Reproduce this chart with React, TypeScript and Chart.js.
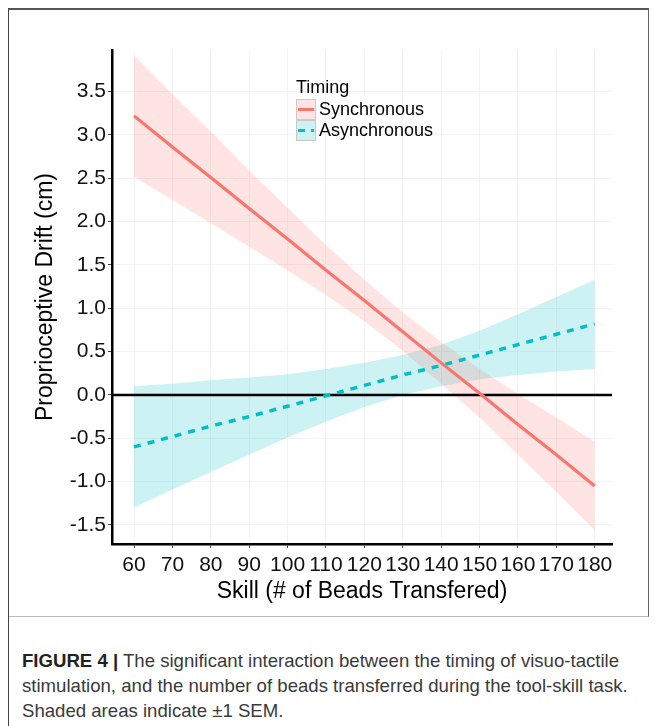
import React, { useEffect, useRef } from "react";
import { Chart, registerables } from "chart.js";

Chart.register(...registerables);

// ---- data ----
const skill = [60, 70, 80, 90, 100, 110, 120, 130, 140, 150, 160, 170, 180];

const syncFit = [3.22, 2.86, 2.51, 2.15, 1.8, 1.44, 1.09, 0.73, 0.37, 0.02, -0.34, -0.69, -1.05];
const syncUpper = [3.92, 3.47, 3.04, 2.59, 2.16, 1.73, 1.33, 0.95, 0.61, 0.3, 0.01, -0.26, -0.54];
const syncLower = [2.52, 2.25, 1.98, 1.71, 1.44, 1.15, 0.85, 0.51, 0.13, -0.26, -0.69, -1.12, -1.56];

const asyncFit = [-0.6, -0.48, -0.36, -0.25, -0.13, -0.01, 0.11, 0.23, 0.34, 0.46, 0.58, 0.7, 0.82];
const asyncUpper = [0.1, 0.13, 0.17, 0.2, 0.24, 0.3, 0.37, 0.46, 0.58, 0.74, 0.93, 1.13, 1.33];
const asyncLower = [-1.3, -1.09, -0.89, -0.69, -0.49, -0.31, -0.14, 0.0, 0.1, 0.18, 0.23, 0.27, 0.3];

const xTicks = [60, 70, 80, 90, 100, 110, 120, 130, 140, 150, 160, 170, 180];
const yTicks = [-1.5, -1.0, -0.5, 0.0, 0.5, 1.0, 1.5, 2.0, 2.5, 3.0, 3.5];
const referenceLineY = [0, 0];

const seriesNames = ["Synchronous", "Asynchronous"];
const legendTitle = "Timing";
const xTitle = "Skill (# of Beads Transfered)";
const yTitle = "Proprioceptive Drift (cm)";

const X_MIN = 54.26;
const X_MAX = 184.5;
const Y_MIN = -1.72;
const Y_MAX = 3.98;

const RED = "#F8766D";
const TEAL = "#00BFC4";
const RED_FILL = "rgba(248,118,109,0.2)";
const TEAL_FILL = "rgba(0,191,196,0.2)";
const FONT = '"Liberation Sans", Arial, sans-serif';

const pts = (ys: number[]) => skill.map((x, i) => ({ x, y: ys[i] }));

const overlayPlugin = {
  id: "overlay",
  afterDraw(chart: any) {
    const ctx = chart.ctx as CanvasRenderingContext2D;
    const area = chart.chartArea;
    ctx.save();
    // axis titles
    ctx.fillStyle = "#000";
    ctx.font = `23px ${FONT}`;
    ctx.textAlign = "center";
    ctx.textBaseline = "middle";
    ctx.fillText(xTitle, (area.left + area.right) / 2, 592);
    ctx.save();
    ctx.translate(46, (area.top + area.bottom) / 2);
    ctx.rotate(-Math.PI / 2);
    ctx.fillText(yTitle, 0, 0);
    ctx.restore();

    // legend
    const lx = 296;
    ctx.textAlign = "left";
    ctx.font = `18px ${FONT}`;
    ctx.fillText(legendTitle, lx, 88);
    const keys = [
      { top: 99, fill: RED_FILL, color: RED, dash: [] as number[] },
      { top: 120, fill: TEAL_FILL, color: TEAL, dash: [7, 6] },
    ];
    keys.forEach((k, i) => {
      ctx.fillStyle = "#fff";
      ctx.fillRect(lx, k.top, 20, 21);
      ctx.fillStyle = k.fill;
      ctx.fillRect(lx, k.top, 20, 21);
      ctx.strokeStyle = "rgba(200,190,190,0.8)";
      ctx.lineWidth = 1;
      ctx.setLineDash([]);
      ctx.strokeRect(lx + 0.5, k.top + 0.5, 19, 20);
      ctx.strokeStyle = k.color;
      ctx.lineWidth = 3;
      ctx.setLineDash(k.dash);
      ctx.beginPath();
      ctx.moveTo(lx + 2, k.top + 10.5);
      ctx.lineTo(lx + 18, k.top + 10.5);
      ctx.stroke();
      ctx.setLineDash([]);
      ctx.fillStyle = "#000";
      ctx.fillText(seriesNames[i], lx + 23, k.top + 11);
    });
    ctx.restore();
  },
};

function ChartBox() {
  const ref = useRef<HTMLCanvasElement | null>(null);
  useEffect(() => {
    if (!ref.current) return;
    const band = (ys: number[], fillColor: string, fill: any) => ({
      data: pts(ys),
      borderWidth: 0,
      borderColor: "rgba(0,0,0,0)",
      backgroundColor: fillColor,
      pointRadius: 0,
      fill,
      order: 5,
    });
    const chart = new Chart(ref.current, {
      type: "line",
      data: {
        datasets: [
          band(syncUpper, RED_FILL, "+1") as any,
          band(syncLower, RED_FILL, false) as any,
          band(asyncUpper, TEAL_FILL, "+1") as any,
          band(asyncLower, TEAL_FILL, false) as any,
          {
            data: [
              { x: X_MIN, y: referenceLineY[0] },
              { x: X_MAX, y: referenceLineY[1] },
            ],
            borderColor: "#000",
            borderWidth: 2.5,
            pointRadius: 0,
            fill: false,
            order: 3,
          },
          {
            label: seriesNames[0],
            data: pts(syncFit),
            borderColor: RED,
            borderWidth: 3.2,
            pointRadius: 0,
            fill: false,
            order: 1,
          },
          {
            label: seriesNames[1],
            data: pts(asyncFit),
            borderColor: TEAL,
            borderWidth: 3.5,
            borderDash: [7, 7],
            pointRadius: 0,
            fill: false,
            order: 1,
          },
        ],
      },
      options: {
        responsive: false,
        animation: false,
        devicePixelRatio: 1,
        layout: { padding: { top: 50, right: 45, left: 0, bottom: 0 } },
        plugins: { legend: { display: false }, tooltip: { enabled: false } },
        scales: {
          x: {
            type: "linear",
            min: X_MIN,
            max: X_MAX,
            afterBuildTicks: (s: any) => {
              s.ticks = xTicks.map((v) => ({ value: v }));
            },
            afterFit: (s: any) => {
              s.height = 71;
            },
            grid: { color: "#F3F3F3", lineWidth: 1, tickLength: 4, tickColor: "#444", tickWidth: 1 },
            border: { display: true, color: "#000", width: 2.5 },
            ticks: {
              font: { family: FONT, size: 21 },
              color: "#111",
              padding: 5,
              maxRotation: 0,
              autoSkip: false,
              callback: (v: any) => String(v),
            },
          },
          y: {
            type: "linear",
            min: Y_MIN,
            max: Y_MAX,
            afterBuildTicks: (s: any) => {
              s.ticks = yTicks.map((v) => ({ value: v }));
            },
            afterFit: (s: any) => {
              s.width = 112;
            },
            grid: { color: "#F3F3F3", lineWidth: 1, tickLength: 4, tickColor: "#444", tickWidth: 1 },
            border: { display: true, color: "#000", width: 2.5 },
            ticks: {
              font: { family: FONT, size: 21 },
              color: "#111",
              padding: 2,
              autoSkip: false,
              callback: (v: any) => Number(v).toFixed(1),
            },
          },
        },
      },
      plugins: [overlayPlugin],
    });
    return () => chart.destroy();
  }, []);
  return (
    <canvas
      ref={ref}
      width={657}
      height={615}
      style={{ position: "absolute", left: 0, top: 0, width: 657, height: 615 }}
    />
  );
}

export default function App() {
  const captionStyle: React.CSSProperties = {
    position: "absolute",
    left: 22,
    fontFamily: FONT,
    fontSize: 18.6,
    lineHeight: "25px",
    color: "#3a3a3a",
    whiteSpace: "nowrap",
  };
  return (
    <div style={{ position: "absolute", left: 0, top: 0, width: 657, height: 726, background: "#fff", overflow: "hidden" }}>
      <div style={{ position: "absolute", left: 9, top: 8, width: 639, height: 606, borderTop: "2px solid #555", borderRight: "1px solid #666", borderBottom: "1px solid #bbb" }} />
      <div style={{ position: "absolute", left: 8, top: 8, width: 1, height: 718, background: "#444" }} />
      <ChartBox />
      <div style={{ ...captionStyle, top: 648 }}>
        <b style={{ color: "#222" }}>FIGURE 4 |</b> The significant interaction between the timing of visuo-tactile
      </div>
      <div style={{ ...captionStyle, top: 673 }}>
        stimulation, and the number of beads transferred during the tool-skill task.
      </div>
      <div style={{ ...captionStyle, top: 698 }}>Shaded areas indicate ±1 SEM.</div>
    </div>
  );
}
